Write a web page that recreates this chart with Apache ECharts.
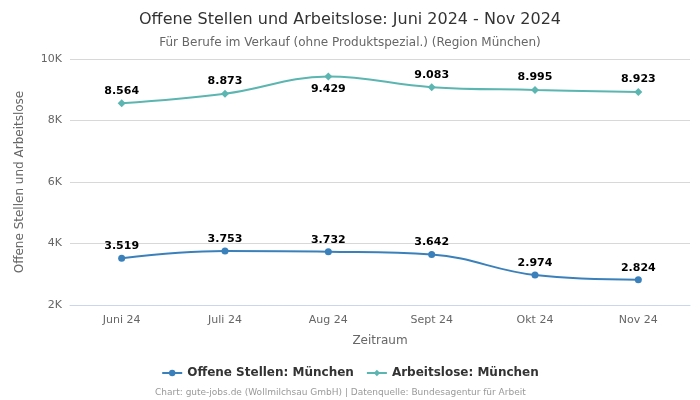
<!DOCTYPE html>
<html><head><meta charset="utf-8">
<script src="https://cdn.jsdelivr.net/npm/echarts@6/dist/echarts.min.js"></script>
<style>html,body{margin:0;padding:0;background:#fff}#c{width:700px;height:400px}</style>
</head><body><div id="c"></div>
<script>
const categories = ['Juni 24','Juli 24','Aug 24','Sept 24','Okt 24','Nov 24'];
const offeneStellen = [3519, 3753, 3732, 3642, 2974, 2824];
const arbeitslose = [8564, 8873, 9429, 9083, 8995, 8923];
const arbeitsloseLabelPos = ['top','top','bottom','top','top','top'];
const yTicks = {min: 2000, max: 10000, interval: 2000};

const fmt = v => (v/1000).toFixed(3);
const chart = echarts.init(document.getElementById('c'));
const F = 'DejaVu Sans';
chart.setOption({
  animation: false,
  textStyle: {fontFamily: F},
  title: [
    {text: 'Offene Stellen und Arbeitslose: Juni 2024 - Nov 2024', left: 'center', top: 7,
     textStyle: {fontFamily: F, fontSize: 16, fontWeight: 'normal', color: '#333'}},
    {text: 'Für Berufe im Verkauf (ohne Produktspezial.) (Region München)', left: 'center', top: 32,
     textStyle: {fontFamily: F, fontSize: 12, fontWeight: 'normal', color: '#666'}},
    {text: 'Chart: gute-jobs.de (Wollmilchsau GmbH) | Datenquelle: Bundesagentur für Arbeit', left: 150, top: 383,
     textStyle: {fontFamily: F, fontSize: 9, fontWeight: 'normal', color: '#999'}}
  ],
  legend: {
    bottom: 16, left: 'center', itemGap: 12, itemWidth: 20, itemHeight: 8,
    textStyle: {fontFamily: F, fontSize: 12, fontWeight: 'bold', color: '#333'},
    data: ['Offene Stellen: München', 'Arbeitslose: München']
  },
  grid: {left: 70, right: 10, top: 59, bottom: 95},
  xAxis: {
    type: 'category', data: categories, boundaryGap: true,
    name: 'Zeitraum', nameLocation: 'middle', nameGap: 30,
    nameTextStyle: {fontFamily: F, fontSize: 12, color: '#666'},
    axisLine: {lineStyle: {color: '#ccd6eb'}},
    axisTick: {show: false},
    axisLabel: {fontFamily: F, fontSize: 11, color: '#666', margin: 10}
  },
  yAxis: {
    type: 'value', min: yTicks.min, max: yTicks.max, interval: yTicks.interval,
    name: 'Offene Stellen und Arbeitslose', nameLocation: 'middle', nameGap: 44,
    nameTextStyle: {fontFamily: F, fontSize: 12, color: '#666'},
    axisLabel: {fontFamily: F, fontSize: 11, color: '#666', formatter: v => (v/1000) + 'K'},
    splitLine: {lineStyle: {color: '#d8d8d8'}},
    axisLine: {show: false}, axisTick: {show: false}
  },
  series: [
    {name: 'Offene Stellen: München', type: 'line', smooth: 0.4, data: offeneStellen,
     symbol: 'circle', symbolSize: 7, color: '#3a80bb', lineStyle: {width: 2},
     label: {show: true, position: 'top', distance: 3, formatter: p => fmt(p.value),
             fontFamily: F, fontSize: 11, fontWeight: 'bold', color: '#000'}},
    {name: 'Arbeitslose: München', type: 'line', smooth: 0.4,
     data: arbeitslose.map((v, i) => ({value: v, label: {position: arbeitsloseLabelPos[i]}})),
     symbol: 'diamond', symbolSize: 8, color: '#5bb5b0', lineStyle: {width: 2},
     label: {show: true, position: 'top', distance: 3, formatter: p => fmt(p.value),
             fontFamily: F, fontSize: 11, fontWeight: 'bold', color: '#000'}}
  ]
});
</script></body></html>
